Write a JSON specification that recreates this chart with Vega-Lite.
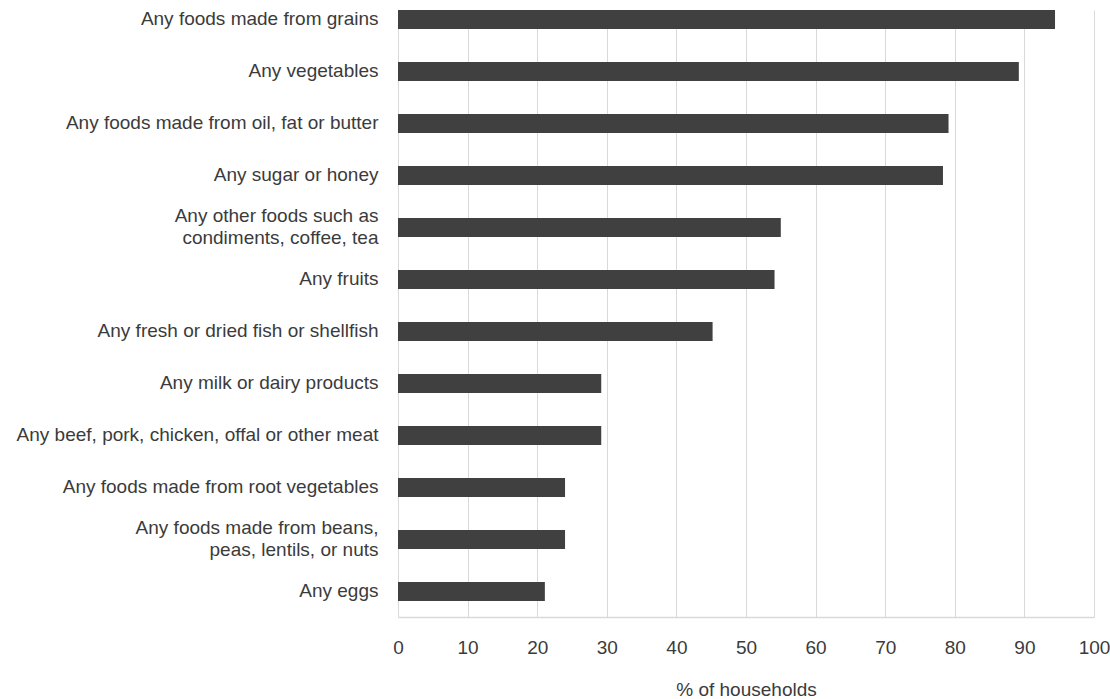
{
  "$schema": "https://vega.github.io/schema/vega-lite/v6.json",
  "width": 696,
  "height": 607,
  "autosize": "none",
  "padding": {"left": 398, "top": 10, "right": 16, "bottom": 82},
  "data": {
    "values": [
      {"food": "Any foods made from grains", "pct": 94.4},
      {"food": "Any vegetables", "pct": 89.2},
      {"food": "Any foods made from oil, fat or butter", "pct": 79.1},
      {"food": "Any sugar or honey", "pct": 78.3},
      {"food": "Any other foods such as|condiments, coffee, tea", "pct": 55.0},
      {"food": "Any fruits", "pct": 54.1},
      {"food": "Any fresh or dried fish or shellfish", "pct": 45.2},
      {"food": "Any milk or dairy products", "pct": 29.2},
      {"food": "Any beef, pork, chicken, offal or other meat", "pct": 29.2},
      {"food": "Any foods made from root vegetables", "pct": 24.0},
      {"food": "Any foods made from beans,|peas, lentils, or nuts", "pct": 24.0},
      {"food": "Any eggs", "pct": 21.1}
    ]
  },
  "mark": {"type": "bar", "color": "#404040"},
  "encoding": {
    "y": {
      "field": "food",
      "type": "nominal",
      "sort": null,
      "scale": {"paddingInner": 0.635, "paddingOuter": 0.154, "align": 0},
      "axis": {
        "title": null,
        "ticks": false,
        "domain": false,
        "grid": false,
        "labelPadding": 20,
        "labelFont": "Liberation Sans",
        "labelFontSize": 19,
        "labelColor": "#3b3b3b",
        "labelLimit": 0,
        "labelLineHeight": 22,
        "labelOffset": {"condition": {"test": "indexof(datum.label, '|') >= 0", "value": -11}, "value": 0},
        "labelExpr": "split(datum.label, '|')"
      }
    },
    "x": {
      "field": "pct",
      "type": "quantitative",
      "scale": {"domain": [0, 100], "nice": false},
      "axis": {
        "title": "% of households",
        "values": [0, 10, 20, 30, 40, 50, 60, 70, 80, 90, 100],
        "ticks": false,
        "grid": true,
        "gridColor": "#d9d9d9",
        "gridWidth": 1,
        "domainColor": "#d9d9d9",
        "domainWidth": 1.5,
        "labelPadding": 21,
        "labelFont": "Liberation Sans",
        "labelFontSize": 19,
        "labelColor": "#3b3b3b",
        "labelFlush": false,
        "labelOverlap": false,
        "titleFont": "Liberation Sans",
        "titleFontSize": 19,
        "titleFontWeight": "normal",
        "titleColor": "#3b3b3b",
        "titlePadding": 23
      }
    }
  },
  "config": {"view": {"stroke": null}}
}
